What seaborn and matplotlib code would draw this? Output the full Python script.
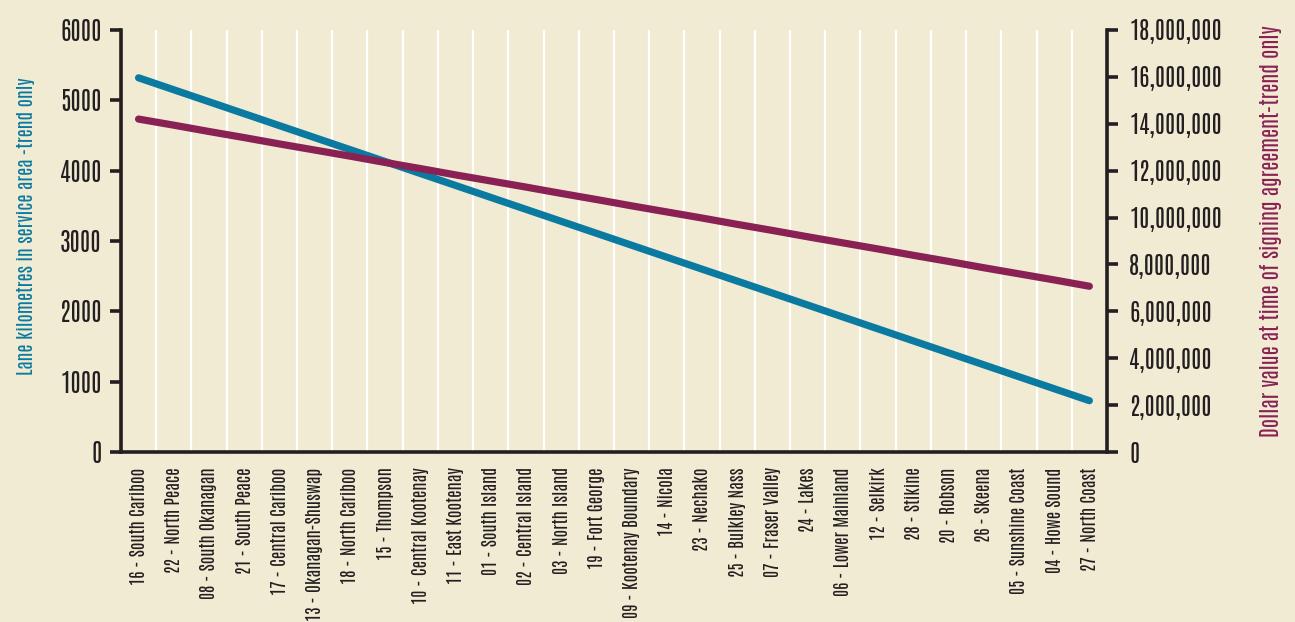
import numpy as np
import pandas as pd
import matplotlib
matplotlib.use("Agg")
import matplotlib.pyplot as plt
import seaborn as sns
from matplotlib.ticker import FixedLocator, FuncFormatter

regions = [
    "16 - South Cariboo", "22 - North Peace", "08 - South Okanagan", "21 - South Peace",
    "17 - Central Cariboo", "13 - Okanagan-Shuswap", "18 - North Cariboo", "15 - Thompson",
    "10 - Central Kootenay", "11 - East Kootenay", "01 - South Island", "02 - Central Island",
    "03 - North Island", "19 - Fort George", "09 - Kootenay Boundary", "14 - Nicola",
    "23 - Nechako", "25 - Bulkley Nass", "07 - Fraser Valley", "24 - Lakes",
    "06 - Lower Mainland", "12 - Selkirk", "28 - Stikine", "20 - Robson",
    "26 - Skeena", "05 - Sunshine Coast", "04 - Howe Sound", "27 - North Coast",
]

# Lane kilometres in service area (trend)
lane_km = [
    5320, 5150, 4980, 4810, 4640, 4470, 4300, 4130, 3960, 3790,
    3620, 3450, 3280, 3110, 2940, 2770, 2600, 2430, 2260, 2090,
    1920, 1750, 1580, 1410, 1240, 1070, 900, 730,
]

# Dollar value at time of signing agreement (trend)
dollar_value = [
    14200000, 13940000, 13670000, 13410000, 13140000, 12880000, 12620000,
    12350000, 12090000, 11820000, 11560000, 11300000, 11030000, 10770000,
    10500000, 10240000, 9980000, 9710000, 9450000, 9180000, 8920000,
    8660000, 8390000, 8130000, 7860000, 7600000, 7340000, 7070000,
]

left_ticks = [0, 1000, 2000, 3000, 4000, 5000, 6000]
right_ticks = [0, 2000000, 4000000, 6000000, 8000000, 10000000,
               12000000, 14000000, 16000000, 18000000]

BG = "#f2ebd4"
BLUE = "#0a7aa0"
PURPLE = "#8a2154"
INK = "#231f20"
FONT = ["Antonio", "DejaVu Sans"]

sns.set_theme(style="white")
plt.rcParams["font.family"] = FONT

df = pd.DataFrame({"region": regions, "lane_km": lane_km, "dollar_value": dollar_value})

fig = plt.figure(figsize=(12.95, 6.22), dpi=100, facecolor=BG)
ax = fig.add_axes([0.0934, 0.2733, 0.7614, 0.6785])
ax.set_facecolor(BG)
ax2 = ax.twinx()

sns.lineplot(data=df, x="region", y="lane_km", sort=False, ax=ax,
             color=BLUE, linewidth=5.2, solid_capstyle="round", zorder=3)
sns.lineplot(data=df, x="region", y="dollar_value", sort=False, ax=ax2,
             color=PURPLE, linewidth=5.2, solid_capstyle="round", zorder=3)

n = len(regions)
ax.set_xlim(-0.5, n - 0.5)
ax.set_ylim(0, 6000)
ax2.set_ylim(0, 18000000)

# Category boundaries carry tick marks and white separators; names sit between them
bounds = np.arange(n + 1) - 0.5
ax.xaxis.set_major_locator(FixedLocator(bounds))
ax.xaxis.set_major_formatter(FuncFormatter(lambda v, p: ""))
ax.xaxis.set_minor_locator(FixedLocator(np.arange(n)))
ax.set_xticklabels(regions, minor=True, rotation=90, fontsize=12.5,
                   color=INK, fontweight=400)
ax.tick_params(axis="x", which="minor", length=0, pad=11)
ax.tick_params(axis="x", which="major", length=8, width=2.6, color=INK, direction="out")
for b in bounds[1:-1]:
    ax.axvline(b, color="white", linewidth=1.6, zorder=1)

ax.set_yticks(left_ticks)
ax.set_yticklabels([str(t) for t in left_ticks], fontsize=18, color=INK, fontweight=500)
ax.tick_params(axis="y", length=8, width=2.6, color=INK, direction="out", pad=6)
ax2.set_yticks(right_ticks)
ax2.set_yticklabels([f"{t:,}" for t in right_ticks], fontsize=17.5, color=INK, fontweight=500)
ax2.tick_params(axis="y", length=8, width=2.6, color=INK, direction="out", pad=8)

for a in (ax, ax2):
    a.spines["top"].set_visible(False)
    for s in ("left", "right", "bottom"):
        a.spines[s].set_color(INK)
        a.spines[s].set_linewidth(2.6)
ax.spines["right"].set_visible(False)
ax2.spines["left"].set_visible(False)
ax2.spines["bottom"].set_visible(False)

ax.set_xlabel("")
ax.set_ylabel("Lane kilometres in service area -trend only", fontsize=13.5,
              color=BLUE, fontweight=600)
ax.yaxis.set_label_coords(-0.087, 0.535)
ax2.set_ylabel("Dollar value at time of signing agreement-trend only", fontsize=15.2,
               color=PURPLE, fontweight=600, rotation=90)
ax2.yaxis.set_label_coords(1.155, 0.524)

fig.savefig("out.png", dpi=100, facecolor=BG)
